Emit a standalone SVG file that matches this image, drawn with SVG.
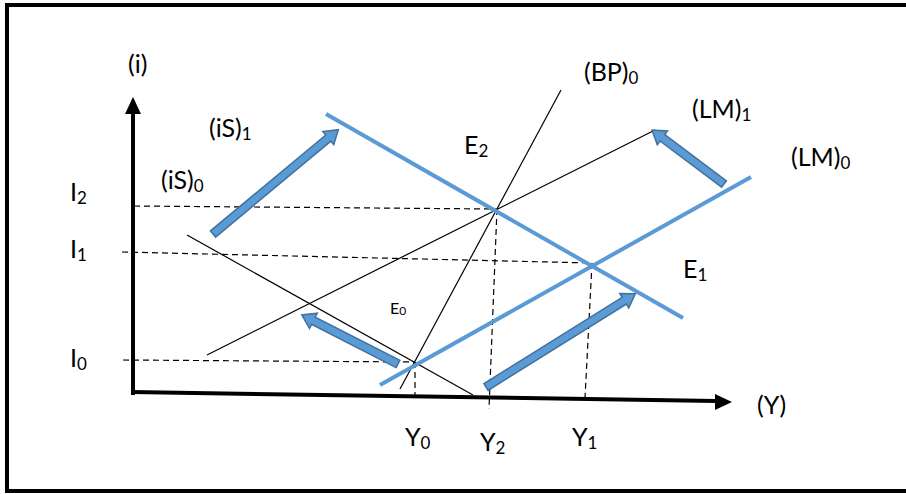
<svg xmlns="http://www.w3.org/2000/svg" width="906" height="494" viewBox="0 0 906 494">
<style>
text{font-family:Lato,"Open Sans","Liberation Sans",sans-serif;font-size:25px;fill:#000}
.sub{font-size:17px}
.thin{stroke:#000;stroke-width:1.2;fill:none}
.blue{stroke:#5B9BD5;stroke-width:4;fill:none}
.dash{stroke:#000;stroke-width:1.2;stroke-dasharray:6 4;fill:none}
.barrow{fill:#5B9BD5;stroke:#41719C;stroke-width:1.5}
</style>
<rect x="7" y="5" width="910" height="486" fill="#fff" stroke="#000" stroke-width="4"/>
<g id="axes">
<line x1="133" y1="395" x2="133" y2="112" stroke="#000" stroke-width="4"/>
<polygon points="133,97 125,114 141,114" fill="#000"/>
<line x1="131" y1="392" x2="716" y2="401" stroke="#000" stroke-width="4"/>
<polygon points="732,402 715,394 715,410" fill="#000"/>
</g>
<g id="connectors">
<g id="dashes">
<line class="dash" x1="134" y1="206" x2="497" y2="209"/>
<line class="dash" x1="122" y1="252" x2="592" y2="263"/>
<line class="dash" x1="123" y1="360" x2="415" y2="362"/>
<line class="dash" x1="415" y1="362" x2="415" y2="398"/>
<line class="dash" x1="497" y1="209" x2="489" y2="409"/>
<line class="dash" x1="592" y1="263" x2="585" y2="398"/>
</g>
<g id="curves">
<line id="IS0" class="thin" x1="187" y1="235" x2="473" y2="395"/>
<line id="LM1" class="thin" x1="207" y1="355" x2="655" y2="130"/>
<line id="BP0" class="thin" x1="400" y1="389" x2="561" y2="90"/>
<line id="IS1" class="blue" x1="326" y1="114" x2="683" y2="318"/>
<line id="LM0" class="blue" x1="380" y1="385" x2="751" y2="177"/>
</g>
<g id="shift-arrows">
<polygon class="barrow" transform="translate(213,234) rotate(-39.76)" points="0,-4 150,-4 150,-8.5 163,0 150,8.5 150,4 0,4"/>
<polygon class="barrow" transform="translate(724,184) rotate(-143.13)" points="0,-4 77,-4 77,-8.5 90,0 77,8.5 77,4 0,4"/>
<polygon class="barrow" transform="translate(398,364) rotate(-152.96)" points="0,-4 95,-4 95,-8.5 108,0 95,8.5 95,4 0,4"/>
<polygon class="barrow" transform="translate(486,387) rotate(-31.97)" points="0,-4 163,-4 163,-8.5 176,0 163,8.5 163,4 0,4"/>
</g>
</g>
<g id="labels">
<text x="128" y="73">(i)</text>
<text x="757" y="414">(Y)</text>
<text x="209" y="137">(iS)<tspan class="sub" dy="3">1</tspan></text>
<text x="161" y="189">(iS)<tspan class="sub" dy="3">0</tspan></text>
<text x="584" y="81">(BP)<tspan class="sub" dy="3">0</tspan></text>
<text x="692" y="118">(LM)<tspan class="sub" dy="3">1</tspan></text>
<text x="791" y="166">(LM)<tspan class="sub" dy="3">0</tspan></text>
<text x="70" y="201">I<tspan class="sub" dy="3">2</tspan></text>
<text x="70" y="258">I<tspan class="sub" dy="3">1</tspan></text>
<text x="70" y="367">I<tspan class="sub" dy="3">0</tspan></text>
<text x="464" y="154">E<tspan class="sub" dy="3">2</tspan></text>
<text x="683" y="278">E<tspan class="sub" dy="3">1</tspan></text>
<text x="390" y="314" style="font-size:16px">E<tspan style="font-size:12px" dy="1">0</tspan></text>
<text x="405" y="446">Y<tspan class="sub" dy="3">0</tspan></text>
<text x="480" y="451">Y<tspan class="sub" dy="3">2</tspan></text>
<text x="572" y="446">Y<tspan class="sub" dy="3">1</tspan></text>
</g>
</svg>
